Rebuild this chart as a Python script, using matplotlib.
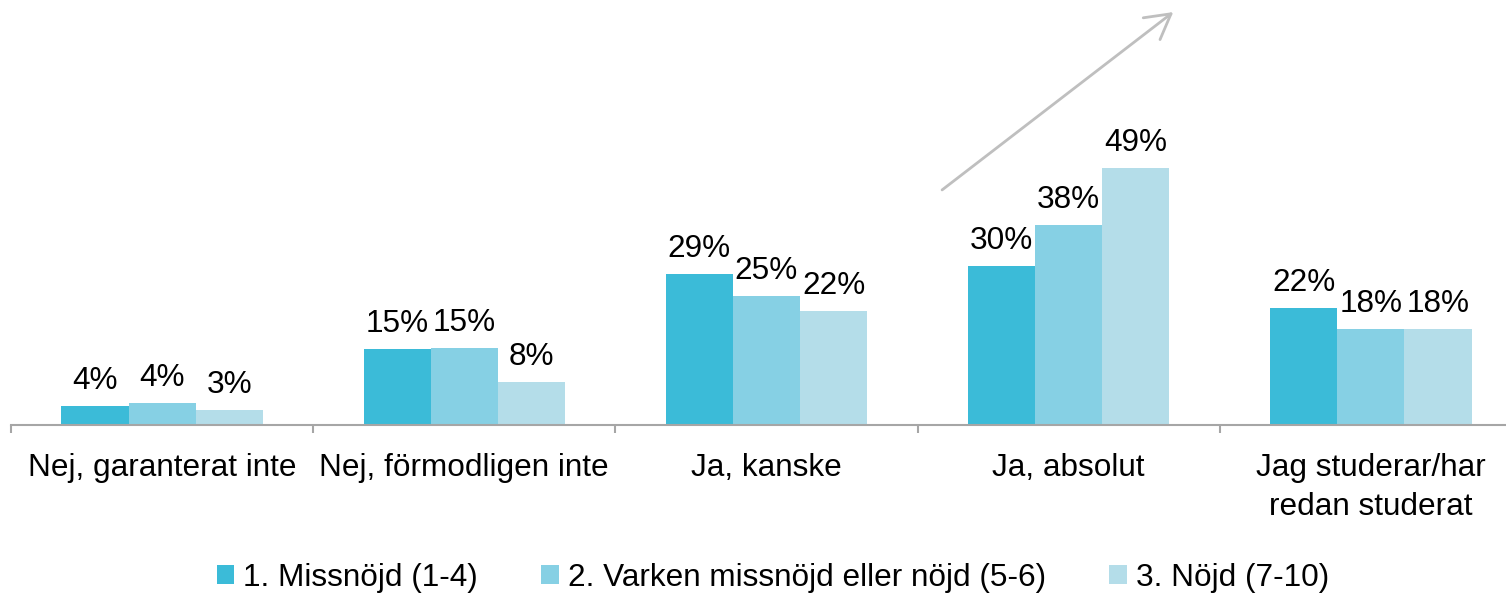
import matplotlib
matplotlib.use("Agg")
import matplotlib.pyplot as plt
from matplotlib.patches import Patch
import numpy as np

plt.rcParams['font.family'] = ['Liberation Sans', 'DejaVu Sans']

categories = ["Nej, garanterat inte", "Nej, förmodligen inte", "Ja, kanske",
              "Ja, absolut", "Jag studerar/har\nredan studerat"]
series_names = ["1. Missnöjd (1-4)", "2. Varken missnöjd eller nöjd (5-6)", "3. Nöjd (7-10)"]
missnojd = [3.6, 14.5, 28.8, 30.3, 22.3]
varken = [4.2, 14.7, 24.6, 38.1, 18.3]
nojd = [2.9, 8.2, 21.7, 49.0, 18.3]
labels_missnojd = ["4%", "15%", "29%", "30%", "22%"]
labels_varken = ["4%", "15%", "25%", "38%", "18%"]
labels_nojd = ["3%", "8%", "22%", "49%", "18%"]

colors = ["#3BBBD8", "#86D0E4", "#B4DDE9"]
series = [missnojd, varken, nojd]
series_labels = [labels_missnojd, labels_varken, labels_nojd]

fig = plt.figure(figsize=(15.06, 5.96), dpi=100)
ax = fig.add_axes([11/1506, 171/596, 1511/1506, 425/596])

x = np.arange(len(categories))
w = 0.222
fs = 22.7
for i, (vals, labs, c) in enumerate(zip(series, series_labels, colors)):
    pos = x + (i - 1) * w
    ax.bar(pos, vals, width=w, color=c, edgecolor='none', zorder=2)
    for px, v, lab in zip(pos, vals, labs):
        ax.annotate(lab, (px, v), xytext=(0, 12), textcoords='offset points',
                    ha='center', va='baseline', fontsize=fs, color='black')

ax.set_xlim(-0.5, 4.5)
ax.set_ylim(0, 81.0)
for s in ['top', 'right', 'left']:
    ax.spines[s].set_visible(False)
ax.spines['bottom'].set_color('#A6A6A6')
ax.spines['bottom'].set_linewidth(1.5)
ax.set_yticks([])
ax.set_xticks(x)
ax.set_xticklabels(categories, fontsize=fs)
for t in ax.get_xticklabels():
    t.set_linespacing(1.4)
ax.tick_params(axis='x', which='major', length=0, pad=20)
ax.set_xticks(np.arange(-0.5, 4.6, 1.0), minor=True)
ax.tick_params(axis='x', which='minor', length=6, width=1.5, color='#A6A6A6', direction='out')

ax.annotate('', xy=(3.346, 78.7), xytext=(2.581, 44.8),
            arrowprops=dict(arrowstyle='->,head_length=0.8,head_width=0.45',
                            color='#BFBFBF', lw=2, mutation_scale=22,
                            shrinkA=0, shrinkB=0), annotation_clip=False)

handles = [Patch(facecolor=c, edgecolor='none') for c in colors]
fig.legend(handles, series_names, loc='center', bbox_to_anchor=(773/1506, 0.03),
           ncol=3, frameon=False, fontsize=fs, handlelength=0.55, handleheight=0.55,
           handletextpad=0.3, columnspacing=2.0, borderaxespad=0, borderpad=0)

fig.savefig("out.png", dpi=100)
